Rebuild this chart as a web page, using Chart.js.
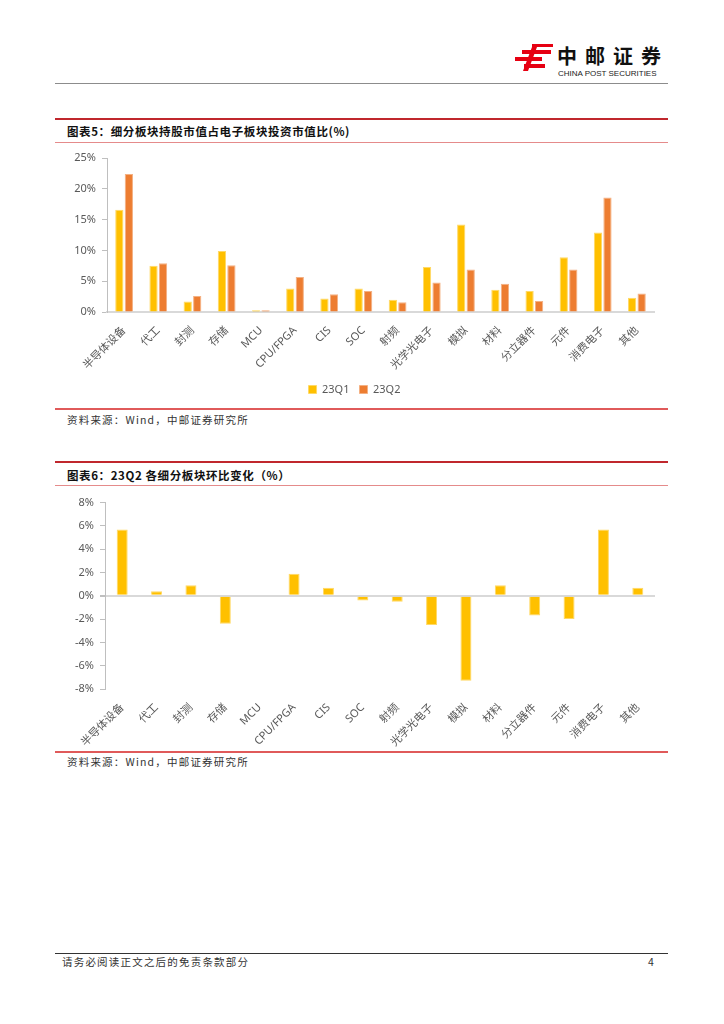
<!DOCTYPE html>
<html>
<head>
<meta charset="utf-8">
<script src="https://cdn.jsdelivr.net/npm/chart.js@4.4.0/dist/chart.umd.min.js"></script>
<style>
  html, body { margin: 0; padding: 0; background: #fff; }
  body { width: 724px; height: 1024px; position: relative; overflow: hidden;
         font-family: 'Noto Sans CJK SC', 'Noto Sans', sans-serif; color: #222; }
  .abs { position: absolute; }
  .rule { position: absolute; left: 55px; width: 613px; }
  .title { position: absolute; left: 67px; font-size: 11.5px; font-weight: bold; letter-spacing: 0.6px; line-height: 14px; color: #111; }
  .src { position: absolute; left: 67px; font-size: 10.5px; letter-spacing: 1.2px; line-height: 14px; color: #333; }
  canvas { position: absolute; }
</style>
</head>
<body>

<!-- header logo -->
<svg class="abs" style="left:515px;top:44px" width="38" height="27" viewBox="0 0 38 27">
  <g fill="#e60012">
    <rect x="17" y="0" width="21" height="3"/>
    <rect x="7" y="6" width="29" height="4"/>
    <rect x="0" y="13" width="27" height="4"/>
    <rect x="9" y="20" width="21" height="4"/>
    <polygon points="17,3 22,3 13,27 8,27"/>
  </g>
</svg>
<div class="abs" style="left:557px;top:44px;font-size:20px;font-weight:bold;letter-spacing:8px;line-height:24px;color:#111">中邮证券</div>
<div class="abs" style="left:558px;top:69px;font-family:'Liberation Sans',sans-serif;font-size:8px;line-height:9px;color:#222">CHINA POST SECURITIES</div>
<div class="rule" style="top:83px;height:1px;background:#8c8c8c"></div>

<!-- chart 1 -->
<div class="rule" style="top:118px;height:2px;background:#c0272d"></div>
<div class="title" style="top:124px">图表5：细分板块持股市值占电子板块投资市值比(%)</div>
<div class="rule" style="top:142px;height:1px;background:#e58b8b"></div>
<canvas id="c1" width="613" height="263" style="left:55px;top:145px"></canvas>
<div class="rule" style="top:408px;height:1.5px;background:#e05a5a"></div>
<div class="src" style="top:413px">资料来源：Wind，中邮证券研究所</div>

<!-- chart 2 -->
<div class="rule" style="top:461px;height:2px;background:#c0272d"></div>
<div class="title" style="top:468px">图表6：23Q2 各细分板块环比变化（%）</div>
<div class="rule" style="top:485px;height:1px;background:#e58b8b"></div>
<canvas id="c2" width="613" height="258" style="left:55px;top:490px"></canvas>
<div class="rule" style="top:751px;height:1.5px;background:#e05a5a"></div>
<div class="src" style="top:755px">资料来源：Wind，中邮证券研究所</div>

<!-- footer -->
<div class="rule" style="top:953px;height:1px;background:#333"></div>
<div class="src" style="left:62px;top:955px">请务必阅读正文之后的免责条款部分</div>
<div class="abs" style="left:648px;top:955px;font-size:10.5px;line-height:14px;color:#333">4</div>

<script>
const categories = ['半导体设备', '代工', '封测', '存储', 'MCU', 'CPU/FPGA', 'CIS', 'SOC',
  '射频', '光学光电子', '模拟', '材料', '分立器件', '元件', '消费电子', '其他'];
const seriesNames = ['23Q1', '23Q2'];
const share23Q1 = [16.6, 7.5, 1.7, 9.9, 0.3, 3.8, 2.2, 3.8, 2.0, 7.3, 14.2, 3.6, 3.4, 8.9, 12.9, 2.3];
const share23Q2 = [22.4, 7.9, 2.6, 7.6, 0.3, 5.7, 2.9, 3.4, 1.6, 4.8, 6.9, 4.6, 1.8, 6.9, 18.6, 3.0];
const qoqChange = [5.7, 0.4, 0.9, -2.4, 0.0, 1.9, 0.7, -0.4, -0.5, -2.5, -7.3, 0.9, -1.7, -2.0, 5.7, 0.7];

const FONT = "'Noto Sans', 'Noto Sans CJK SC', sans-serif";
const TXT = '#595959';
Chart.defaults.font.family = FONT;
Chart.defaults.font.size = 11;
Chart.defaults.color = TXT;

const xTicks = {
  autoSkip: false, maxRotation: 45, minRotation: 45, padding: 4,
  font: { size: 11 }, color: TXT
};

// chart 1: share of holdings
new Chart(document.getElementById('c1'), {
  type: 'bar',
  data: {
    labels: categories,
    datasets: [
      { label: seriesNames[0], data: share23Q1, backgroundColor: '#FFC000',
        borderColor: '#FFD966', borderWidth: 1 },
      { label: seriesNames[1], data: share23Q2, backgroundColor: '#ED7D31',
        borderColor: '#F4B183', borderWidth: 1 }
    ]
  },
  options: {
    responsive: false,
    animation: false,
    categoryPercentage: 0.556,
    barPercentage: 0.87,
    layout: { padding: { top: 13, right: 14, bottom: 3, left: 0 } },
    plugins: {
      tooltip: { enabled: false },
      legend: {
        position: 'bottom',
        labels: { boxWidth: 8, boxHeight: 8, padding: 10, color: TXT, font: { size: 11 } }
      }
    },
    scales: {
      x: {
        grid: { display: false },
        border: { color: '#d9d9d9', width: 2 },
        ticks: xTicks,
        afterFit: s => { s.height = 62; }
      },
      y: {
        min: 0, max: 25,
        ticks: { stepSize: 5, padding: 6, callback: v => v + '%' },
        grid: { drawOnChartArea: false, tickLength: 5, tickColor: '#bfbfbf' },
        border: { color: '#bfbfbf', width: 1 },
        afterFit: s => { s.width = 52; }
      }
    }
  }
});

// chart 2: QoQ change
new Chart(document.getElementById('c2'), {
  type: 'bar',
  data: {
    labels: categories,
    datasets: [
      { label: '环比变化', data: qoqChange, backgroundColor: '#FFC000',
        borderColor: '#FFD966', borderWidth: 1 }
    ]
  },
  options: {
    responsive: false,
    animation: false,
    categoryPercentage: 0.5,
    barPercentage: 0.64,
    layout: { padding: { top: 11, right: 13, bottom: 0, left: 0 } },
    plugins: { tooltip: { enabled: false }, legend: { display: false } },
    scales: {
      x: {
        grid: { display: false },
        border: { display: false },
        ticks: xTicks,
        afterFit: s => { s.height = 59; }
      },
      y: {
        min: -8, max: 8,
        ticks: { stepSize: 2, padding: 6, callback: v => v + '%' },
        grid: {
          tickLength: 5, tickColor: '#bfbfbf',
          color: c => (c.tick && c.tick.value === 0) ? '#d9d9d9' : 'rgba(0,0,0,0)',
          lineWidth: c => (c.tick && c.tick.value === 0) ? 2 : 1
        },
        border: { color: '#bfbfbf', width: 1 },
        afterFit: s => { s.width = 50; }
      }
    }
  }
});
</script>
</body>
</html>
